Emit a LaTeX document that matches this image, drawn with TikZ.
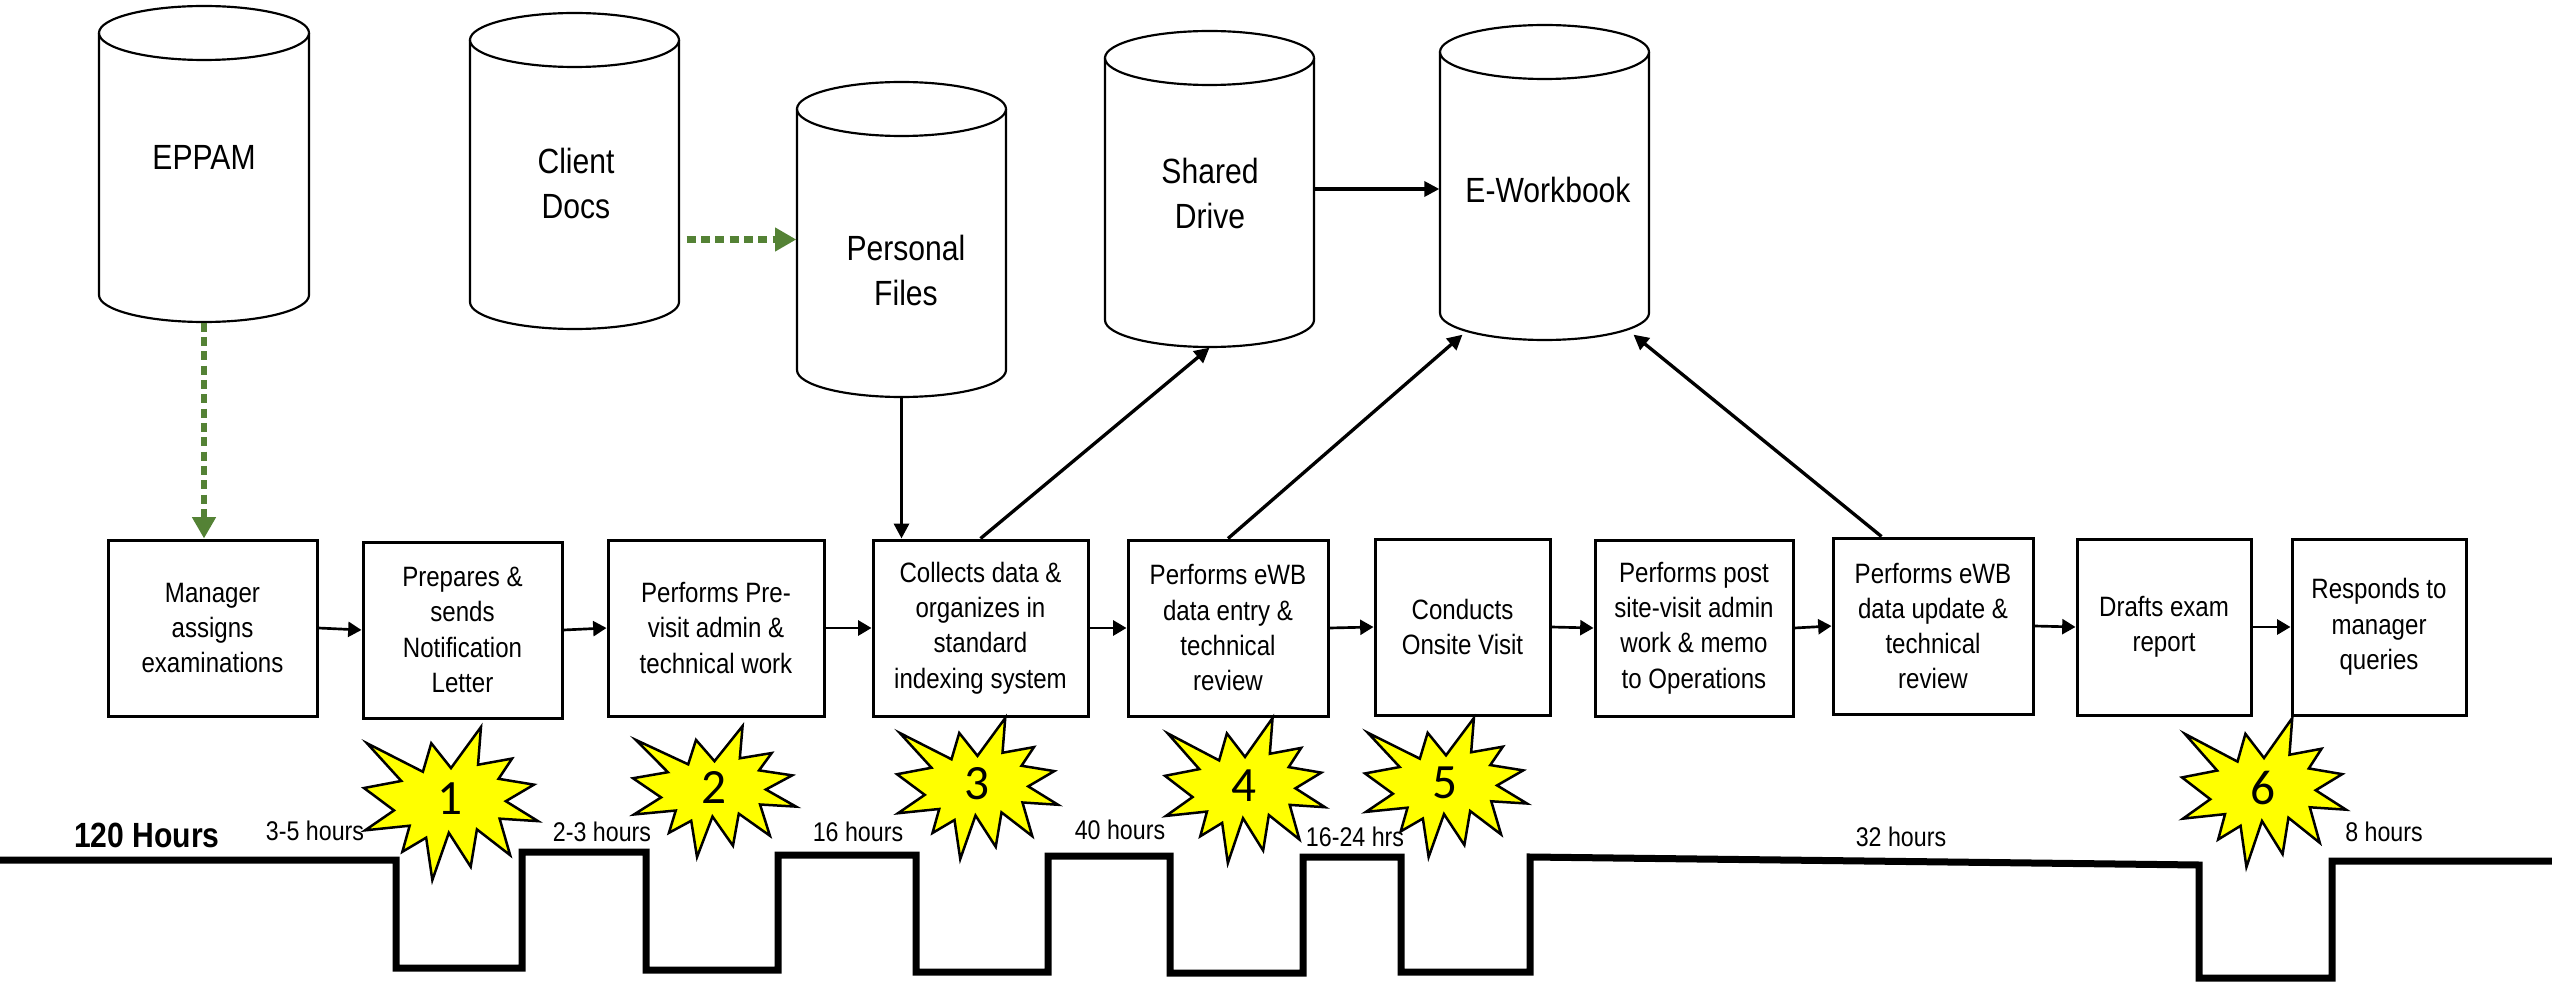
\documentclass[tikz,border=0pt]{standalone}
\usepackage{fontspec}
\setmainfont{Liberation Sans}[FakeStretch=0.86]
\newfontfamily\numfont{Carlito}
\usetikzlibrary{arrows.meta,calc}
\definecolor{arrowgreen}{RGB}{84,130,53}
\definecolor{staryellow}{RGB}{255,255,0}

\newcommand{\dbcylinder}[6]{% name, left, right, top, bottom, ry
  \filldraw[cylline] (#2,#4+#6) -- (#2,#5-#6)
     arc[start angle=180,end angle=0,x radius={(#3-#2)/2},y radius=#6]
     -- (#3,#4+#6)
     arc[start angle=0,end angle=-180,x radius={(#3-#2)/2},y radius=#6] -- cycle;
  \draw[cylline] (#2,#4+#6) arc[start angle=180,end angle=0,x radius={(#3-#2)/2},y radius=#6];
  \node[inner sep=0pt,minimum width={(#3-#2)*0.3pt},minimum height={(#5-#4)*0.3pt}] (#1) at ({(#2+#3)/2},{(#4+#5)/2}) {};
}
\newcommand{\burst}[6]{% name, x1, y1, x2, y2, number
  \begin{scope}[shift={(#2,#3)},xscale={(#4-#2)/216},yscale={(#5-#3)/216}]
    \filldraw[starline] (108,58) -- (145.22,0) -- (141.55,53.25) -- (183.80,44.57) -- (167.02,73.15)
      -- (210.97,81.37) -- (176.07,104.75) -- (216,132.90) -- (168.37,129.42) -- (181.45,180.95)
      -- (140.20,144.57) -- (132.47,197.37) -- (105.32,149.35) -- (84.85,216) -- (77.15,156.27)
      -- (47.62,176.17) -- (56.67,139.37) -- (1.35,145.87) -- (37.22,117.75) -- (0,86.15)
      -- (46.27,76.17) -- (3.70,22.95) -- (73.12,63.20) -- (83.52,22.95) -- cycle;
  \end{scope}
  \node[starnum] (#1) at ({#2+0.494*(#4-#2)},{#3+0.469*(#5-#3)}) {#6};
}

\begin{document}
\begin{tikzpicture}[x=0.3pt,y=-0.3pt,
  cylline/.style={draw=black,line width=0.65pt,fill=white},
  cyllabel/.style={align=center,inner sep=0pt,font=\fontsize{10.5}{13.5}\selectfont},
  procbox/.style={draw=black,line width=0.9pt,fill=white,align=center,inner sep=0pt,
    minimum height=52.8pt,font=\fontsize{8.4}{10.6}\selectfont},
  flow/.style={draw=black,line width=0.8pt,-{Triangle[length=4pt,width=4.5pt]}},
  link/.style={draw=black,line width=1pt,-{Triangle[length=4.5pt,width=4.5pt]}},
  greenflow/.style={draw=arrowgreen,line width=1.95pt,dash pattern=on 2.7pt off 1.6pt,
    -{Triangle[length=6.4pt,width=6.8pt]}},
  timeline/.style={draw=black,line width=2.1pt,line join=miter},
  hourlabel/.style={inner sep=0pt,font=\fontsize{8.1}{9.7}\selectfont},
  starline/.style={draw=black,line width=0.75pt,fill=staryellow},
  starnum/.style={inner sep=0pt,font=\numfont\fontsize{14.8}{16}\selectfont}]

\useasboundingbox[fill=white] (0,0) rectangle (2552,983);

% cylinders
\dbcylinder{eppam}{99}{309}{6}{322}{27}
\dbcylinder{client}{470}{679}{13}{329}{27}
\dbcylinder{pfiles}{797}{1006}{82}{397}{27}
\dbcylinder{sdrive}{1105}{1314}{31}{347}{27}
\dbcylinder{ewb}{1440}{1649}{25}{340}{27}

\node[cyllabel] (eppamlbl) at (204,157) {EPPAM};
\node[cyllabel] (clientlbl) at (576,183) {Client\\Docs};
\node[cyllabel] (pfileslbl) at (906,270) {Personal\\Files};
\node[cyllabel] (sdrivelbl) at (1210,193) {Shared\\Drive};
\node[cyllabel] (ewblbl) at (1548,190) {E-Workbook};

% process boxes
\node[procbox,minimum width=62.7pt] (b1) at (212.5,628) {Manager\\assigns\\examinations};
\node[procbox,minimum width=59.7pt] (b2) at (462.5,630) {Prepares \&\\sends\\Notification\\Letter};
\node[procbox,minimum width=64.8pt] (b3) at (716,628) {Performs Pre-\\visit admin \&\\technical work};
\node[procbox,minimum width=64.5pt] (b4) at (980.5,628) {Collects data \&\\organizes in\\standard\\indexing system};
\node[procbox,minimum width=60pt] (b5) at (1228,628) {Performs eWB\\data entry \&\\technical\\review};
\node[procbox,minimum width=52.5pt] (b6) at (1462.5,627) {Conducts\\Onsite Visit};
\node[procbox,minimum width=59.4pt] (b7) at (1694,628) {Performs post\\site-visit admin\\work \& memo\\to Operations};
\node[procbox,minimum width=60pt] (b8) at (1933,626) {Performs eWB\\data update \&\\technical\\review};
\node[procbox,minimum width=52.2pt] (b9) at (2164,627) {Drafts exam\\report};
\node[procbox,minimum width=52.2pt] (b10) at (2379,627) {Responds to\\manager\\queries};

% flow arrows between boxes
\draw[flow] (b1.east) -- (b2.west);
\draw[flow] (b2.east) -- (b3.west);
\draw[flow] (b3.east) -- (b4.west);
\draw[flow] (b4.east) -- (b5.west);
\draw[flow] (b5.east) -- (b6.west);
\draw[flow] (b6.east) -- (b7.west);
\draw[flow] (b7.east) -- (b8.west);
\draw[flow] (b8.east) -- (b9.west);
\draw[flow] (b9.east) -- (b10.west);

% data links
\draw[greenflow] (eppam.south) -- (eppam.south |- b1.north);
\draw[greenflow,shorten <=2.1pt] (client.east |- pfiles.west) -- (pfiles.west);
\draw[link] (pfiles.south) -- (pfiles.south |- b4.north);
\draw[link] (b4.north) -- (sdrive.south);
\draw[link] (sdrive.east) -- (ewb.west |- sdrive.east);
\coordinate (ewbL) at ($(ewb.south)+(-82,-6)$);
\coordinate (ewbR) at ($(ewb.south)+(89,-6)$);
\coordinate (b8top) at ($(b8.north west)+(50,0)$);
\draw[link] (b5.north) -- (ewbL);
\draw[link] (b8top) -- (ewbR);

% timeline
\draw[timeline] (0,860) -- (396,860) -- (396,968) -- (522,968) -- (522,852) -- (646,852)
  -- (646,970) -- (778,970) -- (778,855) -- (916,855) -- (916,972) -- (1048,972)
  -- (1048,856) -- (1170,856) -- (1170,973) -- (1303,973) -- (1303,857) -- (1401,857)
  -- (1401,972) -- (1530,972) -- (1530,857) -- (2199,865) -- (2199,978) -- (2332,978)
  -- (2332,861) -- (2560,861);

% stars
\burst{s1}{364}{727}{538}{880}{1}
\burst{s2}{633}{726}{796}{857}{2}
\burst{s3}{897}{718}{1058}{859}{3}
\burst{s4}{1165}{718}{1325}{863}{4}
\burst{s5}{1365}{718}{1527}{857}{5}
\burst{s6}{2182}{718}{2346}{867}{6}

% hour labels
\node[hourlabel,font=\bfseries\fontsize{10.5}{12}\selectfont] (total) at (147,835) {120 Hours};
\node[hourlabel] (h1) at (315,831) {3-5 hours};
\node[hourlabel] (h2) at (602,832) {2-3 hours};
\node[hourlabel] (h3) at (858,832) {16 hours};
\node[hourlabel] (h4) at (1120,830) {40 hours};
\node[hourlabel] (h5) at (1355,837) {16-24 hrs};
\node[hourlabel] (h6) at (1901,837) {32 hours};
\node[hourlabel] (h7) at (2384,832) {8 hours};

\end{tikzpicture}
\end{document}
